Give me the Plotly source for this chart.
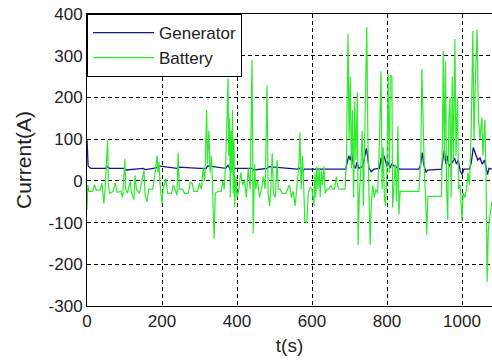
import plotly.graph_objects as go

# Battery current (green)
t_bat = [0, 2, 5, 15, 20, 25, 35, 40, 45, 48, 55, 57, 60, 70, 75, 80, 90, 95, 101, 103,
         108, 115, 118, 125, 128, 132, 140, 145, 152, 155, 160, 165, 175, 180, 184, 187, 189, 192, 195, 200,
         203, 210, 215, 225, 230, 235, 240, 243, 246, 255, 260, 270, 275, 280, 285, 295, 300, 305, 310, 314,
         319, 321, 325, 328, 332, 336, 339, 342, 350, 358, 362, 366, 370, 373, 376, 378, 380, 382, 384, 386,
         388, 390, 392, 394, 397, 400, 405, 410, 415, 420, 425, 430, 435, 440, 443, 447, 450, 455, 460, 465,
         470, 475, 480, 483, 487, 490, 494, 497, 502, 507, 510, 515, 520, 530, 540, 545, 550, 555, 560, 565,
         568, 571, 575, 578, 581, 586, 590, 595, 600, 605, 608, 610, 613, 616, 619, 622, 625, 628, 632, 635,
         640, 645, 650, 655, 660, 665, 668, 672, 680, 688, 692, 696, 699, 702, 705, 708, 711, 714, 717, 721,
         723, 726, 730, 734, 737, 741, 744, 746, 749, 752, 755, 758, 762, 766, 770, 775, 780, 784, 787, 790,
         793, 796, 800, 803, 806, 809, 813, 815, 818, 822, 826, 829, 832, 835, 885, 890, 893, 897, 900, 903,
         906, 909, 945, 948, 950, 953, 956, 959, 962, 965, 968, 971, 974, 977, 981, 984, 988, 991, 995, 998,
         1000, 1003, 1008, 1012, 1016, 1020, 1024, 1029, 1032, 1036, 1040, 1044, 1048, 1053, 1056, 1061, 1064, 1067, 1070, 1075,
         1080]
i_bat = [-70, -10, -25, -25, -10, -22, -22, -5, -55, -20, 97, -10, -30, -25, -5, -28, -25, -40, 53, -20,
         -30, 0, -25, -45, 13, -20, -30, -10, 25, -35, -50, -20, -20, 10, 40, 61, 20, 45, -10, -55,
         -20, 5, -30, -30, -10, -20, -35, 68, -20, -20, -30, -30, -5, -5, -25, -25, -5, -20, 30, 0,
         170, 40, 120, 20, 60, -60, -139, -30, -25, -25, 0, -20, 50, 140, 246, 60, 150, -40, 120, 20,
         170, -30, 100, -63, 10, -40, -20, 20, -10, 0, -40, 30, -20, 290, -126, 40, -20, 0, -40, -20,
         10, -20, 229, -30, -60, -20, 66, -30, -40, 50, -20, -20, -30, -30, -10, -40, -25, -60, -10, 40,
         116, -20, 60, -50, -98, -100, -30, -15, -20, -60, 20, -40, 35, -20, 30, -38, 25, -10, 35, -30,
         -20, -20, -10, -20, -20, 10, -10, -20, -20, -20, 50, 352, 100, 250, 30, 170, -40, 190, 50, 212,
         -153, -40, 30, 120, -60, 150, 290, 369, 100, 0, -153, -60, -10, -40, -20, -30, 100, 263, -20, 80,
         -40, -60, 30, 256, 20, 253, 250, -64, -20, 40, -50, 131, -80, -25, -25, 50, 268, 100, 10, -40,
         -129, -37, -37, 100, 311, 50, 287, -20, -93, 150, 200, -40, 250, 50, 340, 60, 200, -20, -10, -60,
         -96, -30, -40, -20, 20, -10, 100, 359, 100, 250, 362, 150, 100, 152, 60, 147, 20, -242, -120, -80,
         -50]

# Generator current (blue)
t_gen = [0, 3, 10, 50, 55, 60, 100, 104, 150, 155, 185, 190, 240, 245, 300, 318, 322, 370, 376, 382,
         392, 440, 445, 480, 485, 560, 568, 575, 580, 690, 694, 698, 702, 706, 710, 716, 720, 725, 735, 741,
         745, 748, 752, 758, 765, 780, 784, 788, 792, 800, 804, 808, 812, 830, 834, 885, 890, 894, 898, 904,
         908, 945, 949, 953, 957, 961, 965, 975, 980, 985, 990, 995, 1000, 1005, 1020, 1025, 1030, 1034, 1038, 1042,
         1048, 1054, 1060, 1064, 1068, 1072, 1080]
i_gen = [100, 35, 30, 30, 34, 30, 30, 26, 30, 27, 31, 36, 30, 33, 30, 30, 36, 30, 38, 26,
         30, 30, 26, 30, 34, 28, 30, 22, 28, 28, 45, 60, 50, 65, 40, 30, 45, 30, 35, 60,
         78, 60, 30, 22, 28, 30, 55, 40, 60, 35, 45, 30, 40, 30, 28, 28, 40, 68, 40, 20,
         26, 28, 55, 73, 40, 60, 35, 45, 55, 40, 50, 25, 15, 28, 28, 45, 80, 70, 60, 50,
         55, 40, 50, 30, 15, 30, 28]

x_ticks = [0, 200, 400, 600, 800, 1000]
y_ticks = [-300, -200, -100, 0, 100, 200, 300, 400]

fig = go.Figure()
fig.add_trace(go.Scatter(x=t_gen, y=i_gen, mode="lines", name="Generator",
                         line=dict(color="#15158f", width=1.3)))
fig.add_trace(go.Scatter(x=t_bat, y=i_bat, mode="lines", name="Battery",
                         line=dict(color="#2eea2e", width=1.2)))

font_family = "Liberation Sans, Arial, sans-serif"
fig.update_layout(
    width=492, height=363,
    margin=dict(l=87, r=0, t=14, b=57, autoexpand=False),
    paper_bgcolor="white", plot_bgcolor="white",
    font=dict(family=font_family, size=17, color="#222222"),
    showlegend=True,
    legend=dict(x=0, y=1, xanchor="left", yanchor="top",
                bgcolor="white", bordercolor="black", borderwidth=1,
                font=dict(size=17, color="#222222"),
                tracegroupgap=0, itemwidth=61),
    xaxis=dict(range=[0, 1080], tickvals=x_ticks, ticktext=[str(v) for v in x_ticks],
               automargin=False,
               showgrid=True, gridcolor="black", gridwidth=1, griddash="4px,3px",
               zeroline=False, showline=True, linecolor="black", linewidth=1, mirror=True,
               ticks="", title=dict(text="t(s)", font=dict(size=19), standoff=8)),
    yaxis=dict(range=[-300, 400], tickvals=y_ticks, ticktext=[str(v) for v in y_ticks],
               automargin=False,
               showgrid=True, gridcolor="black", gridwidth=1, griddash="4px,3px",
               zeroline=False, showline=True, linecolor="black", linewidth=1, mirror=False,
               ticks="", title=dict(text="Current(A)", font=dict(size=21), standoff=11)),
)

fig.write_html("out.html", config={"displayModeBar": False},
               post_script="document.body.style.margin='0px';")
